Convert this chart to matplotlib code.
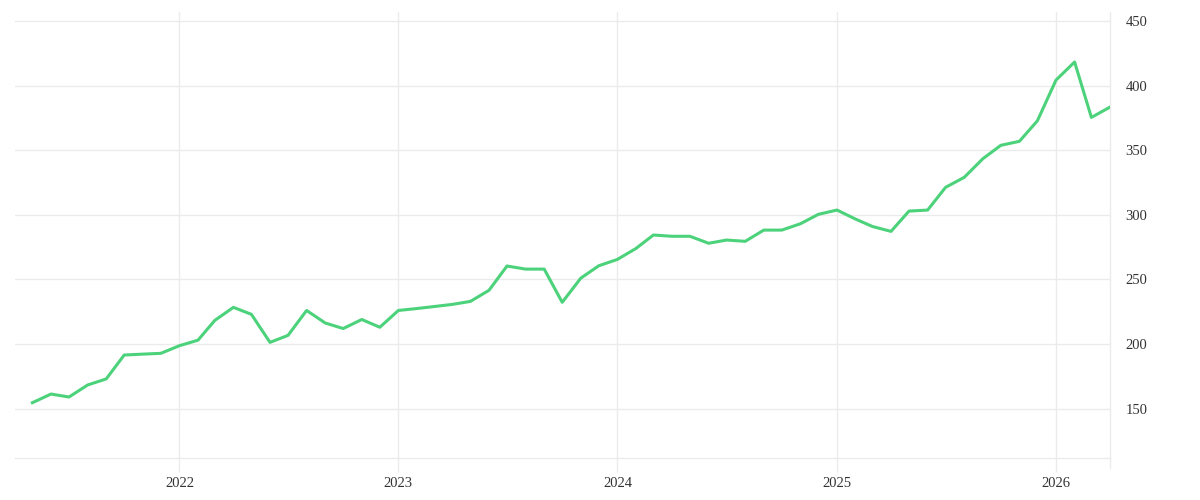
import matplotlib
matplotlib.use("Agg")
import matplotlib.pyplot as plt
import pandas as pd

dates = pd.date_range("2021-05-01", "2026-04-01", freq="MS")
values = [
    154.6, 161.3, 159.0, 168.3, 173.0, 191.5, 192.2, 192.8,
    198.7, 203.0, 218.3, 228.4, 223.0, 201.3, 206.7, 226.0, 216.3, 212.0, 219.0, 213.0,
    226.0, 227.5, 229.0, 230.7, 233.0, 241.6, 260.4, 258.0, 258.0, 232.3, 251.0, 260.6,
    265.5, 274.0, 284.4, 283.4, 283.4, 278.0, 280.5, 279.5, 288.2, 288.2, 293.1, 300.4,
    303.7, 296.7, 291.0, 287.2, 302.9, 303.7, 321.3, 329.0, 343.4, 353.8, 356.9, 372.8,
    404.3, 418.3, 375.4, 383.4,
]
year_ticks = pd.to_datetime(["2022-01-01", "2023-01-01", "2024-01-01", "2025-01-01", "2026-01-01"])
year_labels = ["2022", "2023", "2024", "2025", "2026"]
y_ticks = [150, 200, 250, 300, 350, 400, 450]

grid_c = "#ebebeb"
text_c = "#333333"
plt.rcParams["font.family"] = ["Liberation Serif", "DejaVu Serif"]

fig = plt.figure(figsize=(12, 5), dpi=100)
ax = fig.add_axes([15 / 1200, 1 - 458 / 500, (1110 - 15) / 1200, (458 - 12) / 500])

ax.plot(dates, values, color="#4cd27a", linewidth=2.2, zorder=3)

ax.set_xlim(pd.Timestamp("2021-04-02"), pd.Timestamp("2026-04-01"))
ax.set_ylim(111.8, 457)

ax.set_xticks(year_ticks)
ax.set_xticklabels(year_labels)
ax.set_yticks(y_ticks)
ax.set_yticklabels([str(v) for v in y_ticks])

ax.yaxis.tick_right()
ax.tick_params(axis="y", length=0, pad=11, labelsize=10.5, labelcolor=text_c)
ax.tick_params(axis="x", length=10, width=1, color=grid_c, pad=4, labelsize=10.5, labelcolor=text_c)
for lbl in ax.get_yticklabels():
    lbl.set_horizontalalignment("left")

ax.grid(True, color=grid_c, linewidth=1, zorder=0)
ax.set_axisbelow(True)

for s in ["left", "top"]:
    ax.spines[s].set_visible(False)
ax.spines["bottom"].set_color(grid_c)
ax.spines["right"].set_color(grid_c)
ax.spines["bottom"].set_linewidth(1)
ax.spines["right"].set_linewidth(1)
ax.plot([1, 1], [-10 / 446, 0], transform=ax.transAxes, color=grid_c, linewidth=1, clip_on=False)

fig.savefig("out.png", dpi=100, facecolor="white")
